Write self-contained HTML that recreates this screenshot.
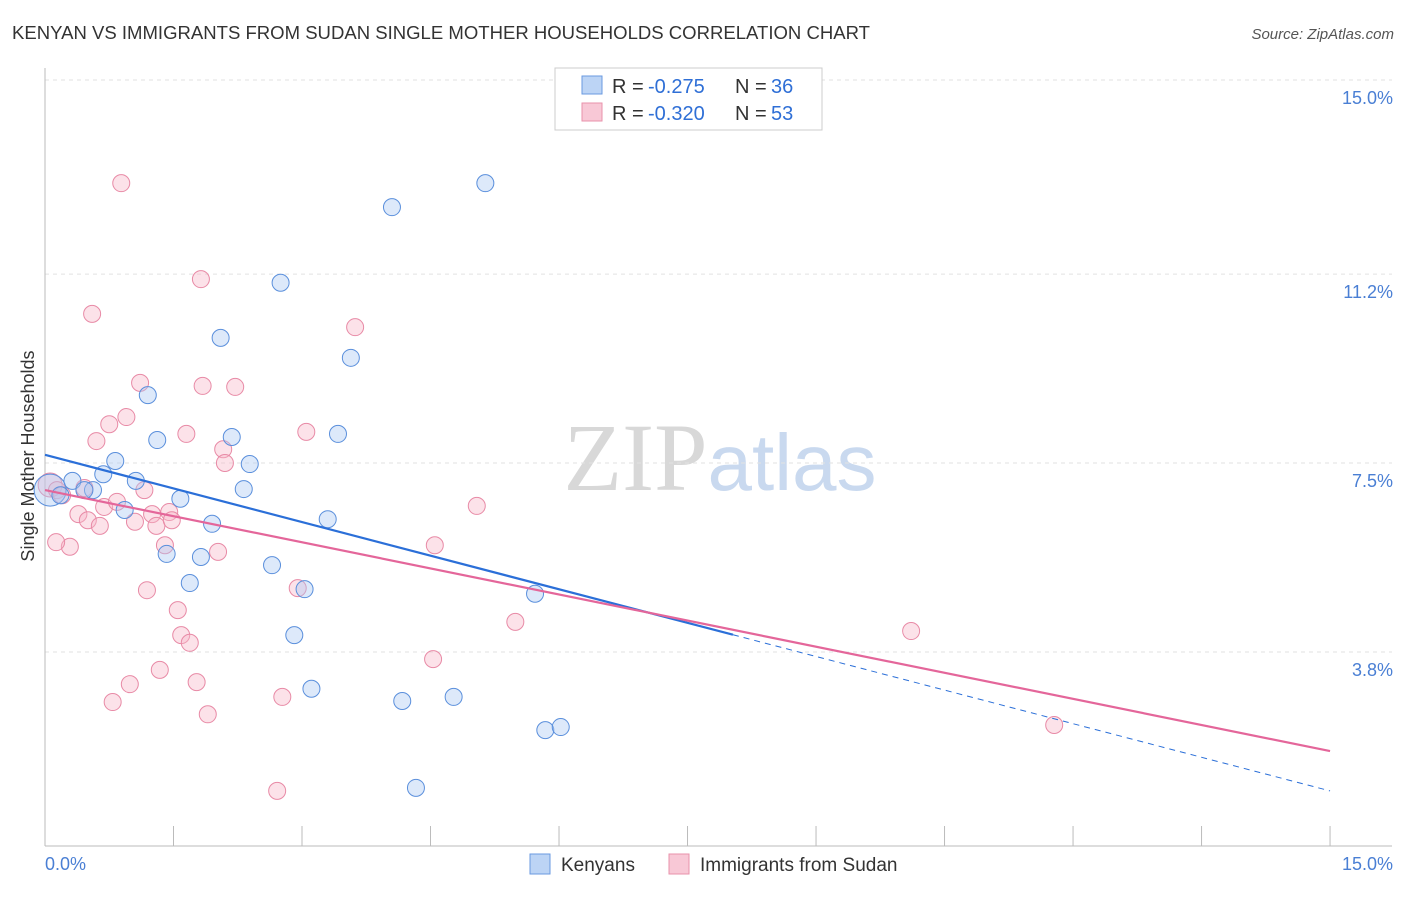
<!DOCTYPE html>
<html><head><meta charset="utf-8"><style>
body{margin:0;background:#fff;font-family:"Liberation Sans",sans-serif;}
</style></head><body>
<svg id="chart" width="1406" height="892" xmlns="http://www.w3.org/2000/svg" font-family="Liberation Sans, sans-serif">
<text x="12" y="39" font-size="18" fill="#333" textLength="858" lengthAdjust="spacingAndGlyphs">KENYAN VS IMMIGRANTS FROM SUDAN SINGLE MOTHER HOUSEHOLDS CORRELATION CHART</text>
<text x="1394" y="39" font-size="15" fill="#555" font-style="italic" text-anchor="end">Source: ZipAtlas.com</text>
<text x="720" y="490" font-size="96" text-anchor="middle"><tspan fill="#d8d8d8" font-family="Liberation Serif, serif">ZIP</tspan><tspan fill="#c9d9ef" font-size="80">atlas</tspan></text>
<g id="grid"></g>
<g id="axes"></g>
<g id="pts"></g>
<g id="trend"></g>
<text transform="translate(34,456) rotate(-90)" font-size="18" fill="#333" text-anchor="middle">Single Mother Households</text>
<g>
<rect x="555" y="68" width="267" height="62" fill="#fff" stroke="#ccc"/>
<rect x="582" y="76" width="20" height="18" fill="#bcd4f5" stroke="#6a9ae0"/>
<text x="612" y="93" font-size="20" fill="#333">R =</text>
<text x="648" y="93" font-size="20" fill="#2f6fd6">-0.275</text>
<text x="735" y="93" font-size="20" fill="#333">N =</text>
<text x="771" y="93" font-size="20" fill="#2f6fd6">36</text>
<rect x="582" y="103" width="20" height="18" fill="#f8c8d6" stroke="#e892ab"/>
<text x="612" y="120" font-size="20" fill="#333">R =</text>
<text x="648" y="120" font-size="20" fill="#2f6fd6">-0.320</text>
<text x="735" y="120" font-size="20" fill="#333">N =</text>
<text x="771" y="120" font-size="20" fill="#2f6fd6">53</text>
</g>
<g>
<rect x="530" y="854" width="20" height="20" fill="#bcd4f5" stroke="#6a9ae0"/>
<text x="561" y="871" font-size="19" fill="#333">Kenyans</text>
<rect x="669" y="854" width="20" height="20" fill="#f8c8d6" stroke="#e892ab"/>
<text x="700" y="871" font-size="19" fill="#333">Immigrants from Sudan</text>
</g>
</svg>
<script>
const yTicks=[15.0,11.2,7.5,3.8];
const yTickLabels=["15.0%","11.2%","7.5%","3.8%"];
const xTickLabels=["0.0%","15.0%"];
const kenX=[0.06,0.18,0.32,0.56,0.68,0.82,0.93,1.06,1.20,1.31,1.42,1.58,1.69,1.82,1.95,2.05,2.18,2.32,2.39,2.65,2.75,2.91,3.03,3.11,3.30,3.42,3.57,4.05,4.17,4.33,4.77,5.14,5.72,5.84,6.02,0.46];
const kenY=[6.97,6.87,7.15,6.97,7.28,7.54,6.58,7.15,8.83,7.95,5.72,6.80,5.15,5.66,6.31,9.95,8.01,6.99,7.48,5.50,11.03,4.13,5.03,3.08,6.40,8.07,9.56,12.51,2.84,1.14,2.92,12.98,4.94,2.27,2.33,6.97];
const sudX=[0.06,0.14,0.20,0.29,0.13,0.39,0.46,0.50,0.60,0.64,0.55,0.69,0.75,0.79,0.84,0.89,0.95,0.99,1.05,1.11,1.16,1.19,1.25,1.30,1.34,1.40,1.45,1.48,1.55,1.59,1.65,1.69,1.77,1.82,1.84,1.90,2.02,2.08,2.10,2.22,2.71,2.77,2.95,3.05,3.62,4.53,4.55,5.04,5.49,10.11,11.78];
const sudY=[7.07,6.97,6.87,5.86,5.95,6.50,7.01,6.38,7.93,6.27,10.42,6.64,8.26,2.82,6.74,12.98,8.40,3.17,6.35,9.07,6.97,5.01,6.50,6.27,3.45,5.89,6.54,6.38,4.62,4.13,8.07,3.98,3.21,11.10,9.01,2.58,5.76,7.77,7.50,8.99,1.08,2.92,5.05,8.11,10.16,3.66,5.89,6.66,4.39,4.21,2.37];
const kenTrend=[7.66,1.08];
const kenSolidEnd=8.03;
const sudTrend=[6.97,1.86];
const NS="http://www.w3.org/2000/svg";
const X=v=>45+v*85.67, Y=v=>80+(15-v)*51.07;
function mk(p,t,a){const e=document.createElementNS(NS,t);for(const k in a)e.setAttribute(k,a[k]);document.getElementById(p).appendChild(e);return e;}
yTicks.forEach((t,i)=>{
 const g=mk('grid','line',{x1:45,x2:1392,y1:Y(t),y2:Y(t),stroke:'#e2e2e2','stroke-dasharray':'4,4'});
 
 
 const l=mk('axes','text',{x:1393,y:Y(t)+24,'font-size':18,fill:'#4a7fd4','text-anchor':'end'});
 l.textContent=yTickLabels[i];
 
 
});
const ya=mk('axes','line',{x1:45,x2:45,y1:68,y2:846,stroke:'#bbb'});


const xa=mk('axes','line',{x1:45,x2:1392,y1:846,y2:846,stroke:'#bbb'});


for(let i=0;i<=10;i++){const t=mk('axes','line',{x1:X(i*1.5),x2:X(i*1.5),y1:826,y2:846,stroke:'#bbb'});
 
 }
[[0,45,'start'],[15,1393,'end']].forEach((d,i)=>{const l=mk('axes','text',{x:d[1],y:870,'font-size':18,fill:'#4a7fd4','text-anchor':d[2]});l.textContent=xTickLabels[i];
 
 });
function pts(xs,ys,fill,stroke,name){xs.forEach((x,i)=>{const c=mk('pts','circle',{cx:X(x),cy:Y(ys[i]),r:(i===0?(name==='kenyan-point'?16:12):8.5),fill:fill,'fill-opacity':0.4,stroke:stroke,'stroke-width':1});
 
 });}
pts(sudX,sudY,'#f7b6c9','#e88aa6','sudan-point');
pts(kenX,kenY,'#a9c8f2','#5a8fdc','kenyan-point');
const kv=x=>kenTrend[0]+(kenTrend[1]-kenTrend[0])*x/15;
const sv=x=>sudTrend[0]+(sudTrend[1]-sudTrend[0])*x/15;
const l1=mk('trend','line',{x1:X(0),y1:Y(kv(0)),x2:X(kenSolidEnd),y2:Y(kv(kenSolidEnd)),stroke:'#2b6fd8','stroke-width':2.2});


const l2=mk('trend','line',{x1:X(kenSolidEnd),y1:Y(kv(kenSolidEnd)),x2:X(15),y2:Y(kv(15)),stroke:'#2b6fd8','stroke-width':1,'stroke-dasharray':'6,5'});


const l3=mk('trend','line',{x1:X(0),y1:Y(sv(0)),x2:X(15),y2:Y(sv(15)),stroke:'#e4669a','stroke-width':2.2});


</script>
</body></html>
